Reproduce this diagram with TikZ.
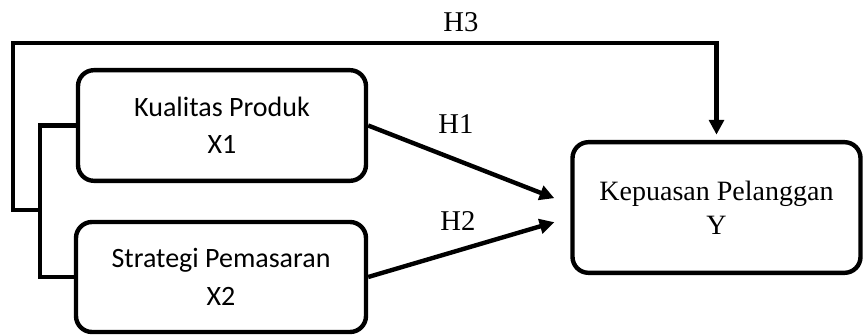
\documentclass[tikz,border=0pt]{standalone}
\usepackage{fontspec}
\setmainfont{Liberation Serif}
\newfontfamily\calfont{Carlito}
\usetikzlibrary{arrows.meta}
\tikzset{
  box/.style={draw, line width=3.3pt, rounded corners=12pt, align=center, inner sep=0pt},
  sansbox/.style={box, font=\calfont\fontsize{21}{28}\selectfont},
  serifbox/.style={box, font=\fontsize{21}{25.5}\selectfont},
  conn/.style={line width=3.3pt},
  arr/.style={conn, -{Triangle[length=11pt,width=11pt]}},
  hlab/.style={font=\fontsize{21.5}{24}\selectfont, inner sep=0pt}
}
\begin{document}
\begin{tikzpicture}[x=0.75pt,y=-0.75pt]
\useasboundingbox (0,0) rectangle (864,335);
\node[sansbox, minimum width=216pt, minimum height=83pt] (x1) at (222,125.5) {Kualitas Produk\\X1};
\node[sansbox, minimum width=217.5pt, minimum height=82.5pt] (x2) at (221,277) {Strategi Pemasaran\\X2};
\node[serifbox, minimum width=216pt, minimum height=98pt] (y) at (716.5,207.5) {Kepuasan Pelanggan\\Y};
\coordinate (j) at (40,210);
\coordinate (c) at (13,43);
\draw[conn] (x1.west) -| (j) |- (x2.west);
\draw[arr, shorten >=4pt] (j) -| (c) -| (y.north);
\draw[arr] (x1.east) -- ([xshift=-12pt,yshift=7pt]y.west);
\draw[arr] (x2.east) -- ([xshift=-12pt,yshift=-11pt]y.west);
\node[hlab] (h3) at (461,22) {H3};
\node[hlab] (h1) at (456,124) {H1};
\node[hlab] (h2) at (458,221) {H2};
\end{tikzpicture}
\end{document}
